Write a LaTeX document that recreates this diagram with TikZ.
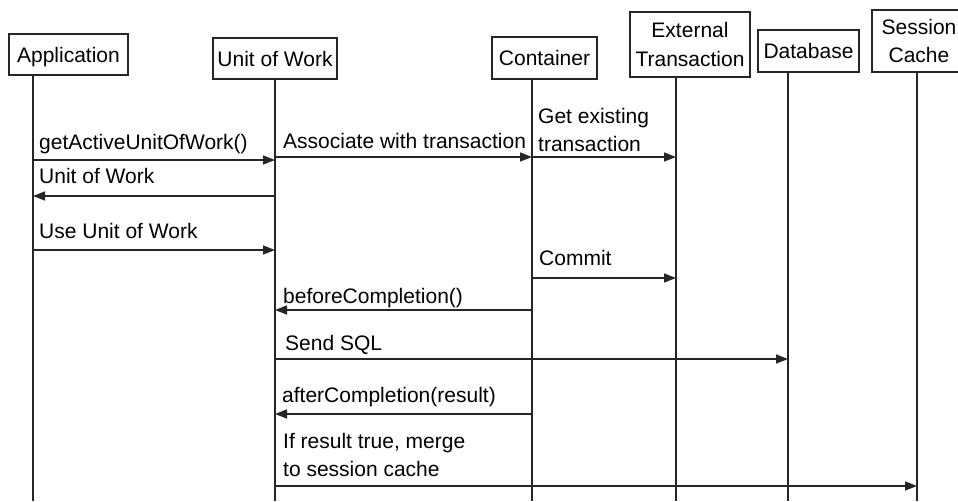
\documentclass[tikz,border=0pt]{standalone}
\usepackage{fontspec}
\setmainfont{Liberation Sans}
\usetikzlibrary{arrows.meta}

\tikzset{
  actor/.style={draw=black!85, line width=1.6pt, inner sep=0pt, align=center,
    font=\fontsize{21}{28.5}\selectfont},
  oneline/.style={text height=15pt, text depth=0pt},
  life/.style={draw=black!85, line width=1.6pt},
  msg/.style={draw=black!85, line width=1.5pt, -{Triangle[length=12pt,width=9pt]}},
  lbl/.style={inner sep=0pt, align=left, font=\fontsize{21}{28.5}\selectfont}
}

\begin{document}
\begin{tikzpicture}[x=1pt,y=-1pt]
\useasboundingbox (0,0) rectangle (958,501);
% participants
\node[actor, oneline, minimum width=119pt, minimum height=41pt] (app) at (68.5,54.5) {Application};
\node[actor, oneline, minimum width=124pt, minimum height=41pt] (uow) at (275,58.5) {Unit of Work};
\node[actor, oneline, minimum width=105pt, minimum height=42pt] (cont) at (544.5,58) {Container};
\node[actor, minimum width=120pt, minimum height=65pt] (ext) at (690,44.5) {External\\Transaction};
\node[actor, oneline, minimum width=101pt, minimum height=42pt] (db) at (808.5,51) {Database};
\node[actor, minimum width=94pt, minimum height=62pt] (cache) at (919,41) {Session\\Cache};
% lifelines
\coordinate (appL) at (33,501);
\coordinate (uowL) at (275,501);
\coordinate (contL) at (532,501);
\coordinate (extL) at (676,501);
\coordinate (dbL) at (788,501);
\coordinate (cacheL) at (917,501);
\draw[life] (app.south -| appL) -- (appL);
\draw[life] (uow.south -| uowL) -- (uowL);
\draw[life] (cont.south -| contL) -- (contL);
\draw[life] (ext.south -| extL) -- (extL);
\draw[life] (db.south -| dbL) -- (dbL);
\draw[life] (cache.south -| cacheL) -- (cacheL);
% messages
\draw[msg] (appL |- 0,160) -- (uowL |- 0,160);
\node[lbl, anchor=base west] (getuow) at (39,149) {getActiveUnitOfWork()};
\draw[msg] (uowL |- 0,157) -- (contL |- 0,157);
\node[lbl, anchor=base west] (assoc) at (283,148) {Associate with transaction};
\draw[msg] (contL |- 0,157) -- (extL |- 0,157);
\node[lbl, anchor=south west] (gettx) at (538,152) {Get existing\\transaction};
\draw[msg] (uowL |- 0,196) -- (appL |- 0,196);
\node[lbl, anchor=base west] (retuow) at (39,183) {Unit of Work};
\draw[msg] (appL |- 0,250) -- (uowL |- 0,250);
\node[lbl, anchor=base west] (useuow) at (39,238) {Use Unit of Work};
\draw[msg] (contL |- 0,278) -- (extL |- 0,278);
\node[lbl, anchor=base west] (commit) at (539,265) {Commit};
\draw[msg] (contL |- 0,310) -- (uowL |- 0,310);
\node[lbl, anchor=base west] (before) at (283,303) {beforeCompletion()};
\draw[msg] (uowL |- 0,359) -- (dbL |- 0,359);
\node[lbl, anchor=base west] (sql) at (285,350) {Send SQL};
\draw[msg] (contL |- 0,414) -- (uowL |- 0,414);
\node[lbl, anchor=base west] (after) at (282,402) {afterCompletion(result)};
\draw[msg] (uowL |- 0,486) -- (cacheL |- 0,486);
\node[lbl, anchor=south west] (merge) at (283,477) {If result true, merge\\to session cache};
\end{tikzpicture}
\end{document}
